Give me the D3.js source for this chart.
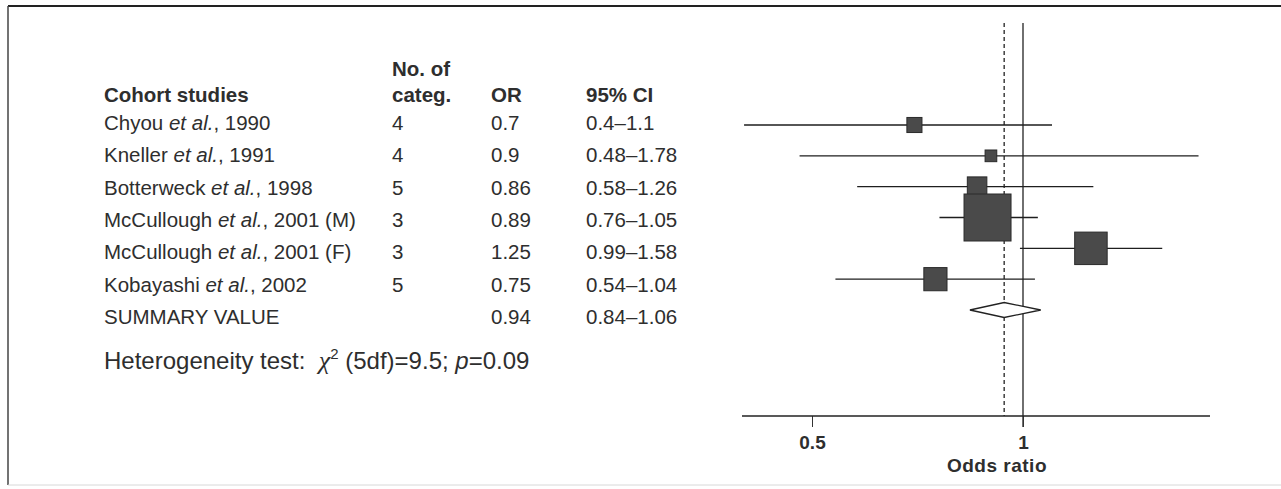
<!DOCTYPE html>
<html>
<head>
<meta charset="utf-8">
<script src="https://cdn.jsdelivr.net/npm/d3@7/dist/d3.min.js"></script>
<style>
  body { margin: 0; background: #fff; }
  svg text { font-family: "Liberation Sans", Arial, Helvetica, sans-serif; fill: #2e2e2e; }
</style>
</head>
<body>
<svg id="chart" width="1281" height="489"></svg>
<script>
// data
var authors = ["Chyou", "Kneller", "Botterweck", "McCullough", "McCullough", "Kobayashi"];
var years = ["1990", "1991", "1998", "2001 (M)", "2001 (F)", "2002"];
var nCateg = [4, 4, 5, 3, 3, 5];
var oddsRatio = [0.7, 0.9, 0.86, 0.89, 1.25, 0.75];
var ciLow = [0.4, 0.48, 0.58, 0.76, 0.99, 0.54];
var ciHigh = [1.1, 1.78, 1.26, 1.05, 1.58, 1.04];
var weights = [5.0, 3.0, 8.4, 48.6, 23.2, 11.8]; // % weight (square area)
var summary = { or: 0.94, lo: 0.84, hi: 1.06 };
var ticks = [0.5, 1];

var svg = d3.select("#chart");
var width = +svg.attr("width"), height = +svg.attr("height");

// frame of the scanned figure
svg.append("line").attr("x1", 8).attr("x2", width).attr("y1", 6).attr("y2", 6)
  .style("stroke", "#222").style("stroke-width", 2);
svg.append("line").attr("x1", 8).attr("x2", 8).attr("y1", 6).attr("y2", 485)
  .style("stroke", "#444").style("stroke-width", 1.5);
svg.append("line").attr("x1", 8).attr("x2", width).attr("y1", 485).attr("y2", 485)
  .style("stroke", "#d8d8d8").style("stroke-width", 1);

var rows = d3.range(authors.length).map(function(i) {
  return { i: i, author: authors[i], year: years[i], n: nCateg[i], or: oddsRatio[i],
           lo: ciLow[i], hi: ciHigh[i], w: weights[i] };
});

// ---------- table ----------
var rowText = d3.scaleLinear().domain([0, 6]).range([130, 324]);
var col = { name: 104, n: 392, or: 491, ci: 586 };
var fs = "20.5px";

var head = svg.append("g").style("font-size", fs).style("font-weight", "bold");
head.append("text").attr("x", col.n).attr("y", 76).text("No. of");
head.append("text").attr("x", col.name).attr("y", 102).text("Cohort studies");
head.append("text").attr("x", col.n).attr("y", 102).text("categ.");
head.append("text").attr("x", col.or).attr("y", 102).text("OR");
head.append("text").attr("x", col.ci).attr("y", 102).text("95% CI");

var trow = svg.append("g").style("font-size", fs)
  .selectAll("g").data(rows).enter().append("g")
  .attr("transform", function(d) { return "translate(0," + rowText(d.i) + ")"; });

var nm = trow.append("text").attr("x", col.name);
nm.append("tspan").text(function(d) { return d.author + " "; });
nm.append("tspan").style("font-style", "italic").text("et al.");
nm.append("tspan").text(function(d) { return ", " + d.year; });
trow.append("text").attr("x", col.n).text(function(d) { return d.n; });
trow.append("text").attr("x", col.or).text(function(d) { return d.or; });
trow.append("text").attr("x", col.ci).text(function(d) { return d.lo + "\u2013" + d.hi; });

var sumRow = svg.append("g").style("font-size", fs)
  .attr("transform", "translate(0," + rowText(6) + ")");
sumRow.append("text").attr("x", col.name).text("SUMMARY VALUE");
sumRow.append("text").attr("x", col.or).text(summary.or);
sumRow.append("text").attr("x", col.ci).text(summary.lo + "\u2013" + summary.hi);

var het = svg.append("text").attr("x", col.name).attr("y", 369).style("font-size", "24px");
het.append("tspan").text("Heterogeneity test:\u00a0\u00a0");
het.append("tspan").style("font-family", "'Liberation Serif', serif").style("font-style", "italic")
  .style("font-size", "26px").text("\u03c7");
het.append("tspan").attr("dy", -10).style("font-size", "15px").text("2");
het.append("tspan").attr("dy", 10).text(" (5df)=9.5; ");
het.append("tspan").style("font-style", "italic").text("p");
het.append("tspan").text("=0.09");

// ---------- forest plot ----------
var x = d3.scaleLog().domain([0.5, 1]).range([812, 1023]);
var y = d3.scaleLinear().domain([0, 6]).range([125, 310]);
var size = d3.scaleSqrt().domain([0, d3.max(weights)]).range([0, 47]);
var axisY = 416, topY = 23;

var plot = svg.append("g");

// reference line at OR = 1 and dashed line at summary OR
plot.append("line").attr("x1", x(1)).attr("x2", x(1)).attr("y1", topY).attr("y2", axisY + 11)
  .style("stroke", "#222").style("stroke-width", 1.3);
plot.append("line").attr("x1", x(summary.or)).attr("x2", x(summary.or)).attr("y1", topY).attr("y2", axisY)
  .style("stroke", "#222").style("stroke-width", 1.3).style("stroke-dasharray", "4,3");

// axis
var axis = d3.axisBottom(x).tickValues(ticks).tickSize(11).tickFormat(d3.format("~g"));
var ax = plot.append("g").attr("transform", "translate(0," + axisY + ")").call(axis);
ax.select(".domain").remove();
ax.selectAll(".tick line").style("stroke", "#333").style("stroke-width", 1);
ax.selectAll(".tick text").attr("y", 20).style("font-size", "19px").style("font-weight", "bold")
  .style("font-family", "'Liberation Sans', Arial, sans-serif").style("fill", "#2e2e2e");
plot.append("line").attr("x1", 742).attr("x2", 1210).attr("y1", axisY).attr("y2", axisY)
  .style("stroke", "#222").style("stroke-width", 1.3);
plot.append("text").attr("x", 997).attr("y", 472).attr("text-anchor", "middle")
  .style("font-size", "19px").style("font-weight", "bold").style("letter-spacing", "0.5px")
  .text("Odds ratio");

// CI whiskers
plot.append("g").selectAll("line").data(rows).enter().append("line")
  .attr("x1", function(d) { return x(d.lo); })
  .attr("x2", function(d) { return x(d.hi); })
  .attr("y1", function(d) { return y(d.i); })
  .attr("y2", function(d) { return y(d.i); })
  .style("stroke", "#1e1e1e").style("stroke-width", 1.3);

// weighted squares
plot.append("g").selectAll("rect").data(rows).enter().append("rect")
  .attr("x", function(d) { return x(d.or) - size(d.w) / 2; })
  .attr("y", function(d) { return y(d.i) - size(d.w) / 2; })
  .attr("width", function(d) { return size(d.w); })
  .attr("height", function(d) { return size(d.w); })
  .style("fill", "#4a4a4a").style("stroke", "#2a2a2a").style("stroke-width", 1);

// summary diamond
var cy = y(6), hh = 7.5;
plot.append("path")
  .attr("d", "M" + x(summary.lo) + "," + cy + "L" + x(summary.or) + "," + (cy - hh) +
    "L" + x(summary.hi) + "," + cy + "L" + x(summary.or) + "," + (cy + hh) + "Z")
  .style("fill", "#fff").style("stroke", "#222").style("stroke-width", 1.3);
</script>
</body>
</html>
